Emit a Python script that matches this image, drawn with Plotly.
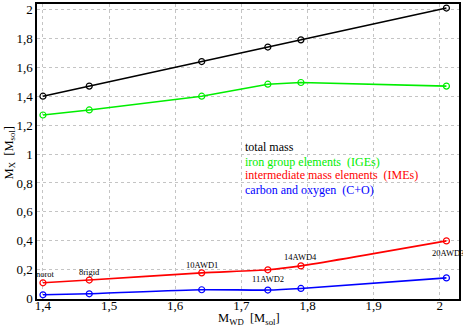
import plotly.graph_objects as go

m_wd = [1.40, 1.47, 1.64, 1.74, 1.79, 2.01]
total = [1.40, 1.47, 1.64, 1.74, 1.79, 2.01]
ige = [1.27, 1.305, 1.40, 1.483, 1.495, 1.47]
ime = [0.109, 0.128, 0.178, 0.199, 0.226, 0.399]
co = [0.026, 0.033, 0.061, 0.059, 0.070, 0.143]
models = ["norot", "8rigid", "10AWD1", "11AWD2", "14AWD4", "20AWD3"]
label_y = [0.169, 0.184, 0.235, 0.134, 0.286, 0.315]
label_shift = [3, 0, 0, 0, 0, 2]

legend_items = [
    ("total mass", "black"),
    ("iron group elements  (IGEs)", "#00ee00"),
    ("intermediate mass elements  (IMEs)", "#ff0000"),
    ("carbon and oxygen  (C+O)", "#0000ff"),
]
legend_y = [1.046, 0.943, 0.858, 0.748]

FONT = "Liberation Serif, Times New Roman, serif"

fig = go.Figure()
for vals, color, shape in [(total, "black", "linear"), (ige, "#00ee00", "linear"),
                           (ime, "#ff0000", "spline"), (co, "#0000ff", "spline")]:
    fig.add_trace(go.Scatter(
        x=m_wd, y=vals, mode="lines+markers",
        line=dict(color=color, width=1.6, shape=shape, smoothing=0.6),
        marker=dict(symbol="circle-open", size=6, color=color, line=dict(width=1.2)),
        showlegend=False,
    ))

for name, x, y, dx in zip(models, m_wd, label_y, label_shift):
    fig.add_annotation(x=x, y=y, text=name, showarrow=False, xshift=dx,
                       font=dict(family=FONT, size=8.5, color="black"))

for (txt, col), y in zip(legend_items, legend_y):
    fig.add_annotation(x=1.703, y=y, text=txt, showarrow=False,
                       xanchor="left", yanchor="middle",
                       font=dict(family=FONT, size=12, color=col))

# axis titles
fig.add_annotation(xref="paper", yref="paper", x=0.502, y=-0.068, showarrow=False,
                   xanchor="center", yanchor="middle",
                   text="M<sub>WD</sub>  [M<sub>sol</sub>]",
                   font=dict(family=FONT, size=12.5, color="black"))
fig.add_annotation(xref="paper", yref="paper", x=-0.064, y=0.497, showarrow=False,
                   xanchor="center", yanchor="middle",
                   textangle=-90, text="M<sub>X</sub>  [M<sub>sol</sub>]",
                   font=dict(family=FONT, size=12.5, color="black"))

axis_common = dict(
    showline=True, linecolor="black", linewidth=1.5, mirror=True,
    showgrid=True, gridcolor="#c4c4c4", griddash="dot", gridwidth=1,
    zeroline=False, ticks="", tickfont=dict(family=FONT, size=13, color="black"),
)

fig.update_xaxes(range=[1.391, 2.029], dtick=0.1, tick0=1.4,
                 ticklabelstandoff=-6, **axis_common)
fig.update_yaxes(range=[-0.003, 2.038], dtick=0.2, tick0=0, **axis_common)

fig.update_layout(
    width=463, height=331,
    margin=dict(l=37, r=2, t=2, b=32),
    paper_bgcolor="white", plot_bgcolor="white",
    separators=", ",
)

fig.write_html("out.html", config={"displayModeBar": False},
               post_script="document.body.style.margin='0';document.body.style.overflow='hidden';")
